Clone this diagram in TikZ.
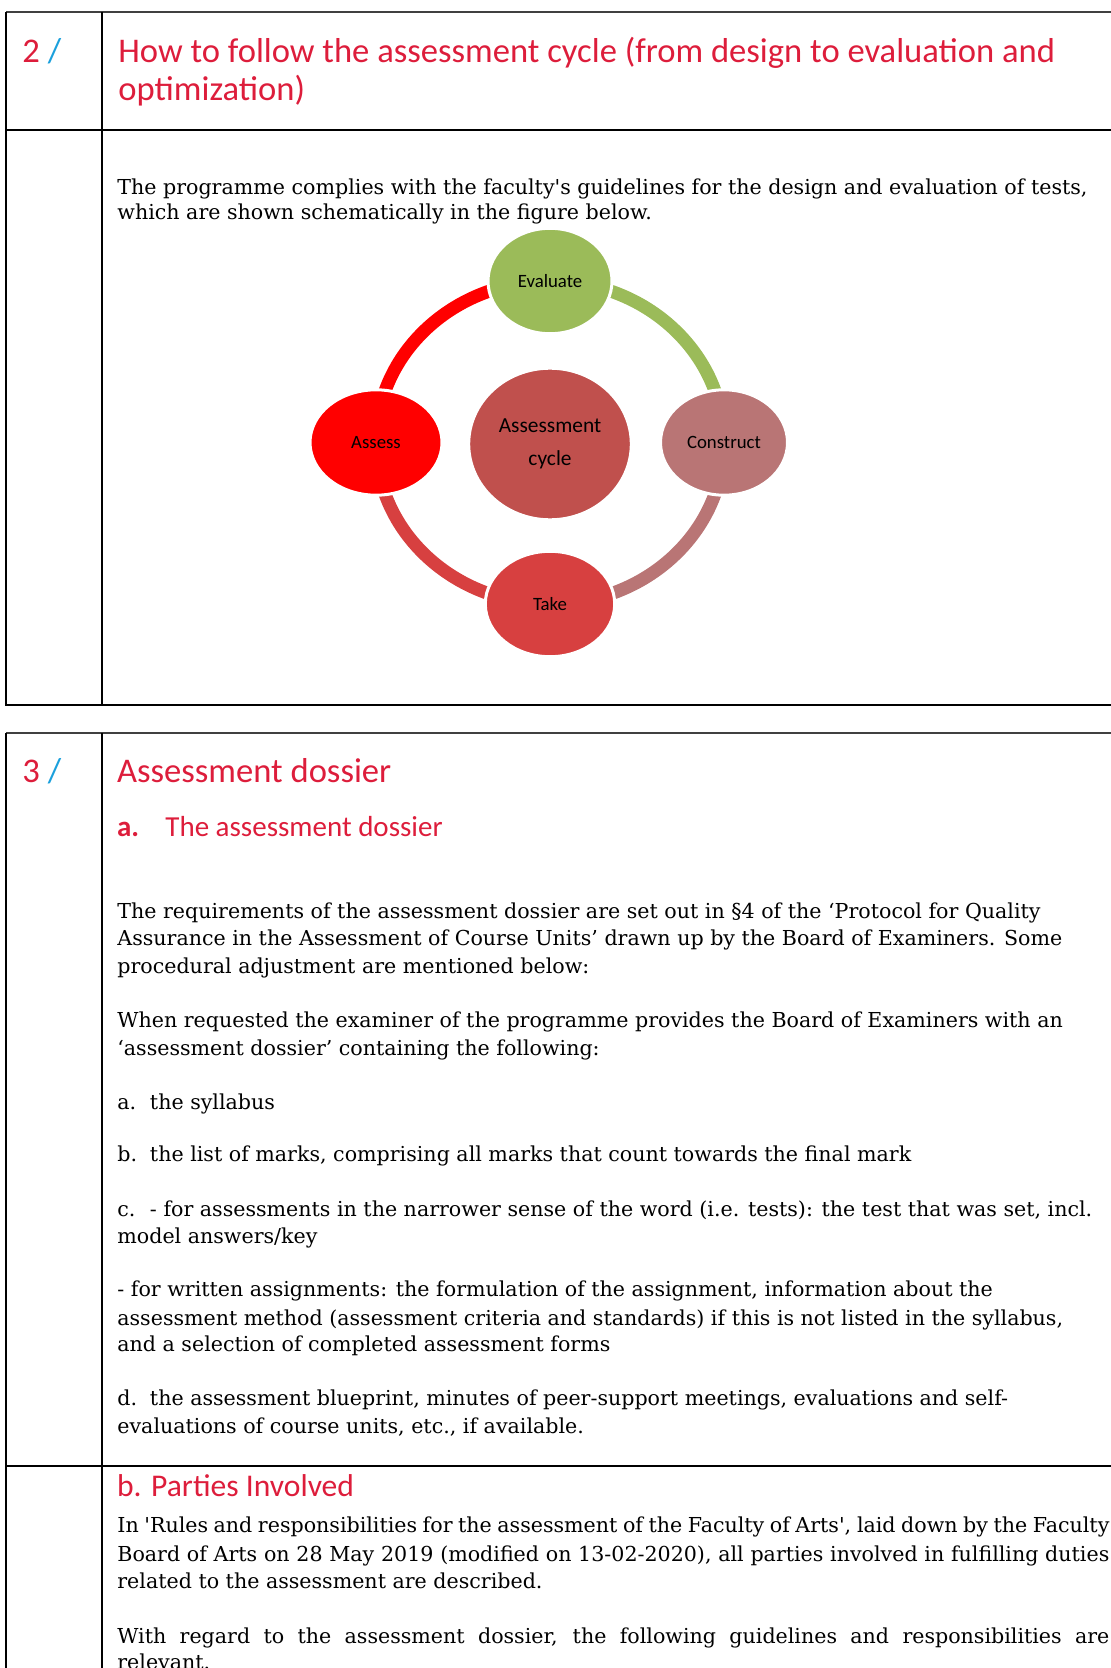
\documentclass[tikz,border=0pt]{standalone}
\usepackage{fontspec}
\setmainfont{DejaVu Serif}
\newfontfamily\headfont{Carlito}
\usetikzlibrary{shapes.geometric}

\definecolor{headred}{RGB}{221,29,59}
\definecolor{slashblue}{RGB}{27,160,220}
\definecolor{evalgreen}{RGB}{155,187,89}
\definecolor{assessred}{RGB}{255,0,0}
\definecolor{hubred}{RGB}{192,80,77}
\definecolor{constructrose}{RGB}{185,117,117}
\definecolor{takered}{RGB}{215,64,64}
\definecolor{ruledark}{RGB}{64,64,64}

\newcommand{\listlabel}[1]{\makebox[16.3pt][l]{#1}}
\newcommand{\fullline}[1]{\makebox[496pt][s]{#1}}

\begin{document}
\begin{tikzpicture}[x=0.5pt,y=-0.5pt,
    rule/.style={line width=1pt},
    topline/.style={line width=1pt,ruledark},
    headline/.style={anchor=base west,inner sep=0pt,text=headred,
      font=\headfont\fontsize{17.3pt}{20pt}\selectfont},
    subline/.style={anchor=base west,inner sep=0pt,text=headred,
      font=\headfont\fontsize{14.5pt}{17pt}\selectfont},
    bodyline/.style={anchor=base west,inner sep=0pt,
      font=\fontsize{10.3pt}{13pt}\selectfont},
    cyclenode/.style={ellipse,draw=white,line width=1.5pt,inner sep=0pt,
      minimum height=52.7pt,text=black,
      font=\headfont\fontsize{9.4pt}{10pt}\selectfont},
    ring/.style={line width=6.5pt}]
\useasboundingbox (0,0) rectangle (1111,1668);

% section 2 table
\draw[topline] (6,12) -- (1120,12);
\draw[rule] (6,12) -- (6,704.5) -- (1120,704.5);
\draw[rule] (102,12) -- (102,704.5);
\draw[rule] (6,130) -- (1120,130);

\node[headline] (num2) at (22,62.3) {2 \textcolor{slashblue}{/}};
\node[headline] (title2a) at (118,62.3) {How to follow the assessment cycle (from design to evaluation and};
\node[headline] (title2b) at (118,100.7) {optimization)};

\node[bodyline] (intro1) at (117,194.3) {The programme complies with the faculty\textquotesingle s guidelines for the design and evaluation of tests,};
\node[bodyline] (intro2) at (117,220) {which are shown schematically in the figure below.};

% assessment cycle
\coordinate (ev) at (550,281);
\coordinate (as) at (376,442.5);
\coordinate (co) at (724,442.5);
\coordinate (ta) at (550,604);

\draw[ring,assessred] (as) arc[start angle=180,end angle=270,x radius=174,y radius=161.5];
\draw[ring,evalgreen] (ev) arc[start angle=270,end angle=360,x radius=174,y radius=161.5];
\draw[ring,constructrose] (co) arc[start angle=0,end angle=90,x radius=174,y radius=161.5];
\draw[ring,takered] (ta) arc[start angle=90,end angle=180,x radius=174,y radius=161.5];

\node[cyclenode,fill=hubred,minimum width=81.3pt,minimum height=75.8pt,align=center,
  font=\headfont\fontsize{10.7pt}{16.4pt}\selectfont] (hub) at (550,444) {Assessment\\cycle};
\node[cyclenode,fill=evalgreen,minimum width=62pt] (evaluate) at (ev) {Evaluate};
\node[cyclenode,fill=assessred,minimum width=66pt] (assess) at (as) {Assess};
\node[cyclenode,fill=constructrose,minimum width=63.5pt] (construct) at (co) {Construct};
\node[cyclenode,fill=takered,minimum width=64.7pt] (take) at (ta) {Take};

% section 3 table
\draw[topline] (6,733.3) -- (1120,733.3);
\draw[rule] (6,733.3) -- (6,1680);
\draw[rule] (101.5,733.3) -- (101.5,1680);
\draw[rule] (6,1466) -- (1120,1466);

\node[headline] (num3) at (22,782.7) {3 \textcolor{slashblue}{/}};
\node[headline] (title3) at (116.7,782.7) {Assessment dossier};
\node[subline] (sub3a) at (116.7,836) {\makebox[24.15pt][l]{\bfseries a.}The assessment dossier};

\foreach \y/\t [count=\i] in {
  918.3/{The requirements of the assessment dossier are set out in §4 of the ‘Protocol for Quality},
  945.7/{Assurance in the Assessment of Course Units’ drawn up by the Board of Examiners. Some},
  973.3/{procedural adjustment are mentioned below:},
  1027.5/{When requested the examiner of the programme provides the Board of Examiners with an},
  1055/{‘assessment dossier’ containing the following:},
  1109.3/{\listlabel{a.}the syllabus},
  1161.7/{\listlabel{b.}the list of marks, comprising all marks that count towards the final mark},
  1216/{\listlabel{c.}- for assessments in the narrower sense of the word (i.e. tests): the test that was set, incl.},
  1243.3/{model answers/key},
  1296.7/{- for written assignments: the formulation of the assignment, information about the},
  1325/{assessment method (assessment criteria and standards) if this is not listed in the syllabus,},
  1351.7/{and a selection of completed assessment forms},
  1405.7/{\listlabel{d.}the assessment blueprint, minutes of peer-support meetings, evaluations and self-},
  1433.3/{evaluations of course units, etc., if available.}}
  \node[bodyline] (dossier\i) at (117,\y) {\t};

\node[subline,font=\headfont\fontsize{15.8pt}{18pt}\selectfont] (sub3b) at (116.7,1496) {b. Parties Involved};

\foreach \y/\t [count=\i] in {
  1532.7/{\fullline{In \textquotesingle Rules and responsibilities for the assessment of the Faculty of Arts\textquotesingle, laid down by the Faculty}},
  1561/{\fullline{Board of Arts on 28 May 2019 (modified on 13-02-2020), all parties involved in fulfilling duties}},
  1588.3/{related to the assessment are described.},
  1643.3/{\fullline{With regard to the assessment dossier, the following guidelines and responsibilities are}},
  1669/{relevant.}}
  \node[bodyline] (parties\i) at (117,\y) {\t};
\end{tikzpicture}
\end{document}
